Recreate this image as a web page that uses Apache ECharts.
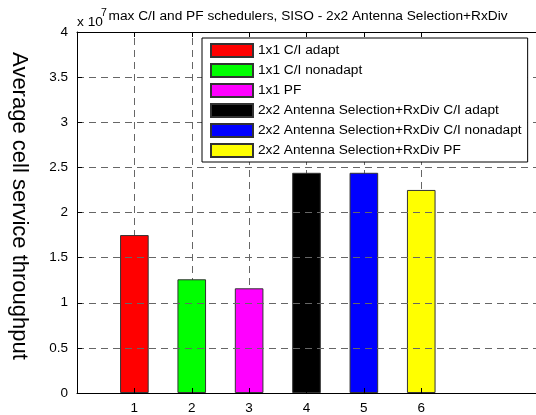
<!DOCTYPE html>
<html>
<head>
<meta charset="utf-8">
<script src="https://cdn.jsdelivr.net/npm/echarts@6/dist/echarts.min.js"></script>
<style>
  html, body { margin: 0; padding: 0; background: #fff; }
  #chart { width: 536px; height: 415px; }
</style>
</head>
<body>
<div id="chart"></div>
<script>
// Scenario positions on the x axis and their average cell service throughput
const positions = [1, 2, 3, 4, 5, 6];
const schemeNames = [
  '1x1 C/I adapt',
  '1x1 C/I nonadapt',
  '1x1 PF',
  '2x2 Antenna Selection+RxDiv C/I adapt',
  '2x2 Antenna Selection+RxDiv C/I nonadapt',
  '2x2 Antenna Selection+RxDiv PF'
];
const throughput = [1.75e7, 1.26e7, 1.16e7, 2.44e7, 2.44e7, 2.25e7];
const barColors = ['#ff0000', '#00ff00', '#ff00ff', '#000000', '#0000ff', '#ffff00'];
const yScale = 1e7;

const FONT = '"Liberation Sans", Arial, Helvetica, sans-serif';
const GRID_GRAY = '#666666';
const GRID_DASH = [7, 5];

const chart = echarts.init(document.getElementById('chart'), null, { renderer: 'canvas' });

// one bar per scheme, all sharing the same slot at their own x position
const series = schemeNames.map((name, i) => ({
  name: name,
  type: 'bar',
  xAxisIndex: 0,
  yAxisIndex: 0,
  barWidth: 28.6,
  barGap: '-100%',
  z: 3,
  data: [[positions[i], throughput[i]]],
  itemStyle: { color: barColors[i], borderColor: '#333333', borderWidth: 1 },
  emphasis: { disabled: true },
  animation: false
}));

// vertical dashed grid lines at the labelled positions, kept beneath the bars
series[0].markLine = {
  silent: true,
  symbol: ['none', 'none'],
  z: 1,
  animation: false,
  label: { show: false },
  lineStyle: { color: GRID_GRAY, type: GRID_DASH, width: 1 },
  emphasis: { disabled: true },
  data: positions.map(p => ({ xAxis: p }))
};

const option = {
  animation: false,
  backgroundColor: '#ffffff',
  grid: { left: 77, top: 32, right: -2, bottom: 22, containLabel: false },
  legend: {
    data: schemeNames,
    orient: 'vertical',
    left: 202,
    top: 38,
    z: 6,
    itemWidth: 42,
    itemHeight: 13,
    itemGap: 5,
    padding: [5, 6, 4, 8],
    icon: 'rect',
    backgroundColor: '#ffffff',
    borderColor: '#000000',
    borderWidth: 1,
    selectedMode: false,
    textStyle: { fontFamily: FONT, fontSize: 13.7, color: '#000000' }
  },
  xAxis: [
    {
      type: 'value',
      position: 'bottom',
      min: 0,
      max: 8,
      interval: 1,
      z: 5,
      axisLine: { show: true, onZero: false, lineStyle: { color: '#000000', width: 1 } },
      axisTick: { show: true, inside: true, length: 5, customValues: positions, lineStyle: { color: '#000000' } },
      axisLabel: {
        show: true, margin: 8, fontFamily: FONT, fontSize: 13.5, color: '#000000',
        customValues: positions,
        formatter: v => String(v)
      },
      splitLine: { show: false }
    },
    {
      type: 'value',
      position: 'top',
      min: 0,
      max: 8,
      interval: 1,
      z: 5,
      axisLine: { show: true, onZero: false, lineStyle: { color: '#000000', width: 1 } },
      axisTick: { show: true, inside: true, length: 5, customValues: positions, lineStyle: { color: '#000000' } },
      axisLabel: { show: false },
      splitLine: { show: false }
    }
  ],
  yAxis: {
    type: 'value',
    min: 0,
    max: 4e7,
    interval: 5e6,
    z: 5,
    axisLine: { show: true, onZero: false, lineStyle: { color: '#000000', width: 1 } },
    axisTick: { show: true, inside: true, length: 5, lineStyle: { color: '#000000' } },
    axisLabel: {
      show: true, margin: 9, fontFamily: FONT, fontSize: 13.5, color: '#000000',
      formatter: v => String(+(v / yScale).toFixed(1))
    },
    splitLine: { show: true, lineStyle: { color: GRID_GRAY, type: GRID_DASH, width: 1 } }
  },
  graphic: [
    {
      type: 'text',
      x: 308,
      y: 16,
      style: {
        text: 'max C/I and PF schedulers, SISO - 2x2 Antenna Selection+RxDiv',
        fontFamily: FONT,
        fontSize: 13.7,
        fill: '#000000',
        textAlign: 'center',
        textVerticalAlign: 'middle'
      }
    },
    {
      type: 'text',
      x: 77,
      y: 22,
      style: {
        text: 'x 10',
        fontFamily: FONT,
        fontSize: 13.7,
        fill: '#000000',
        textAlign: 'left',
        textVerticalAlign: 'middle'
      }
    },
    {
      type: 'text',
      x: 101,
      y: 13,
      style: {
        text: '7',
        fontFamily: FONT,
        fontSize: 10.5,
        fill: '#000000',
        textAlign: 'left',
        textVerticalAlign: 'middle'
      }
    },
    {
      type: 'text',
      x: 19,
      y: 206,
      rotation: -Math.PI / 2,
      style: {
        text: 'Average cell service throughput',
        fontFamily: FONT,
        fontSize: 22,
        fill: '#000000',
        textAlign: 'center',
        textVerticalAlign: 'middle'
      }
    }
  ],
  series: series
};

chart.setOption(option);
</script>
</body>
</html>
